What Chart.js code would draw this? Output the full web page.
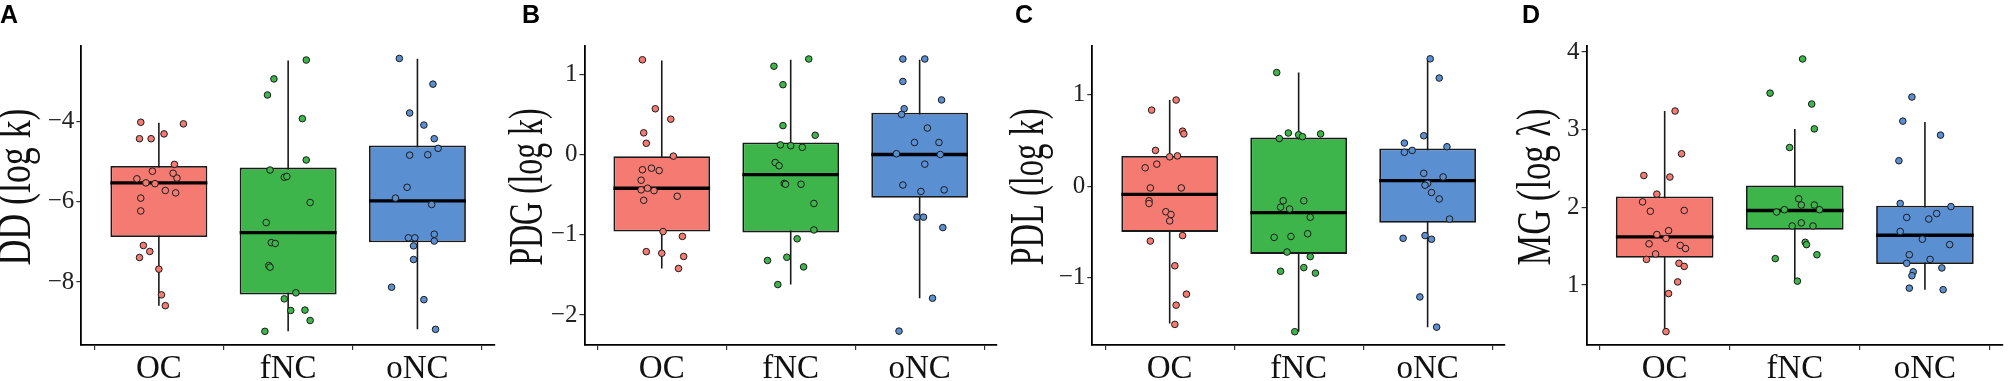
<!DOCTYPE html>
<html>
<head>
<meta charset="utf-8">
<script src="https://cdn.jsdelivr.net/npm/chart.js@4.4.1/dist/chart.umd.min.js"></script>
<style>
  html, body { margin: 0; padding: 0; background: #fff; }
  body { width: 2008px; height: 381px; position: relative; overflow: hidden; }
  .panel { position: absolute; top: 0; height: 381px; }
</style>
</head>
<body>
<div class="panel" id="wrapA" style="left:0px;width:500px"><canvas id="chartA"></canvas></div>
<div class="panel" id="wrapB" style="left:502px;width:500px"><canvas id="chartB"></canvas></div>
<div class="panel" id="wrapC" style="left:1004px;width:506px"><canvas id="chartC"></canvas></div>
<div class="panel" id="wrapD" style="left:1506px;width:502px"><canvas id="chartD"></canvas></div>
<script>
const groups = ["OC", "fNC", "oNC"];
const fillColors = ["#F57B72", "#3DB54B", "#5A8FD2"];

// ---- Panel A: DD (log k)
const ddTicks = [-8, -6, -4];
// box stats per group: [lower whisker, q1, median, q3, upper whisker]
const ddBox = [
    [-8.59, -6.88, -5.53, -5.11, -4.03],
    [-9.23, -8.31, -6.77, -5.15, -2.48],
    [-9.18, -7.01, -5.98, -4.60, -2.44]
];
const ddOC_x = [0.86,1.19,0.85,0.94,1.04,1.12,0.95,0.83,0.90,0.97,1.14,1.11,1.05,1.13,0.86,0.86,0.88,0.93,0.85,1.00,1.02,1.05];
const ddOC_y = [-4.02,-4.06,-4.43,-4.43,-4.31,-5.07,-5.24,-5.43,-5.53,-5.55,-5.41,-5.29,-5.72,-5.78,-5.91,-6.23,-7.09,-7.24,-7.39,-7.68,-8.32,-8.59];
const ddfNC_x = [2.14,1.89,1.84,2.11,2.14,1.86,1.97,1.99,2.17,1.83,1.87,1.90,1.85,1.86,2.06,1.97,2.02,2.13,2.17,1.82];
const ddfNC_y = [-2.47,-2.94,-3.34,-3.93,-4.96,-5.21,-5.39,-5.37,-6.02,-6.52,-7.02,-7.04,-7.59,-7.63,-8.27,-8.42,-8.71,-8.70,-8.96,-9.23];
const ddoNC_x = [2.86,3.12,2.94,3.05,3.13,3.16,2.94,3.08,2.92,2.83,3.11,3.13,2.93,2.98,3.13,2.97,2.97,2.80,3.05,3.14];
const ddoNC_y = [-2.43,-3.07,-3.79,-4.09,-4.43,-4.67,-4.84,-4.83,-5.64,-5.91,-6.07,-6.81,-6.90,-6.90,-6.98,-7.10,-7.44,-8.13,-8.44,-9.18];

// ---- Panel B: PDG (log k)
const pdgTicks = [-2, -1, 0, 1];
const pdgBox = [
    [-1.42, -0.96, -0.42, -0.02, 1.17],
    [-1.62, -0.97, -0.25, 0.15, 1.18],
    [-1.79, -0.54, 0.00, 0.52, 1.18]
];
const pdgOC_x = [0.85,0.95,1.07,0.86,0.88,1.09,0.85,0.92,0.98,0.84,0.89,0.84,0.94,1.12,0.86,1.01,1.16,0.88,1.00,1.17,1.13];
const pdgOC_y = [1.18,0.57,0.44,0.27,0.14,-0.02,-0.19,-0.17,-0.20,-0.32,-0.42,-0.44,-0.45,-0.52,-0.57,-0.96,-1.02,-1.21,-1.23,-1.27,-1.42];
const pdgfNC_x = [2.14,1.87,1.94,1.94,2.19,1.92,2.00,2.09,1.88,1.91,1.95,1.96,2.08,2.18,2.18,2.05,1.97,1.82,2.10,1.90];
const pdgfNC_y = [1.19,1.10,0.87,0.36,0.24,0.12,0.11,0.09,-0.10,-0.14,-0.36,-0.37,-0.37,-0.61,-0.94,-1.05,-1.28,-1.32,-1.40,-1.62];
const pdgoNC_x = [2.87,3.04,2.87,3.17,2.88,2.86,3.06,2.96,3.15,2.82,3.16,3.04,2.87,3.01,3.19,2.98,3.03,3.18,3.10,2.84];
const pdgoNC_y = [1.19,1.19,0.91,0.68,0.57,0.50,0.33,0.15,0.15,0.01,0.00,-0.12,-0.38,-0.46,-0.44,-0.78,-0.78,-0.91,-1.79,-2.20];

// ---- Panel C: PDL (log k)
const pdlTicks = [-1, 0, 1];
const pdlBox = [
    [-1.50, -0.50, -0.09, 0.33, 0.94],
    [-1.59, -0.74, -0.29, 0.53, 1.24],
    [-1.54, -0.40, 0.06, 0.41, 1.38]
];
const pdlOC_x = [1.05,0.86,1.10,1.11,0.89,1.00,1.06,0.90,0.81,0.85,1.09,0.84,0.84,0.97,1.01,1.00,0.85,1.10,1.04,1.13,1.05,1.04];
const pdlOC_y = [0.94,0.83,0.60,0.57,0.39,0.32,0.33,0.24,0.20,-0.02,-0.02,-0.16,-0.19,-0.28,-0.31,-0.38,-0.60,-0.54,-0.87,-1.18,-1.30,-1.51];
const pdlfNC_x = [1.83,1.92,1.85,2.00,2.03,2.17,1.88,2.04,1.86,1.93,2.09,1.81,1.94,2.07,1.91,2.09,2.04,1.86,2.13,1.97];
const pdlfNC_y = [1.24,0.58,0.52,0.56,0.54,0.57,-0.16,-0.16,-0.23,-0.25,-0.34,-0.56,-0.55,-0.52,-0.72,-0.77,-0.89,-0.93,-0.95,-1.59];
const pdloNC_x = [3.02,3.09,2.97,2.82,2.82,2.88,3.15,2.97,3.12,3.00,2.98,3.03,3.09,3.17,2.81,2.98,3.03,2.94,3.07];
const pdloNC_y = [1.39,1.18,0.55,0.47,0.37,0.39,0.43,0.14,0.10,0.03,0.01,-0.07,-0.14,-0.36,-0.57,-0.54,-0.58,-1.21,-1.54];

// ---- Panel D: MG (log λ)
const mgTicks = [1, 2, 3, 4];
const mgBox = [
    [0.40, 1.35, 1.62, 2.14, 3.24],
    [1.05, 1.71, 1.96, 2.28, 3.01],
    [0.94, 1.27, 1.64, 2.02, 3.10]
];
const mgOC_x = [1.08,1.13,0.84,1.04,0.94,0.83,0.89,1.15,1.03,0.94,1.01,0.88,1.12,1.16,0.93,0.86,1.11,1.15,1.10,1.03,1.01];
const mgOC_y = [3.24,2.69,2.41,2.39,2.17,2.07,1.95,1.96,1.70,1.65,1.60,1.53,1.51,1.47,1.40,1.33,1.28,1.24,1.04,0.89,0.40];
const mgfNC_x = [2.06,1.81,2.13,2.15,1.96,2.03,2.05,2.15,1.86,1.92,2.19,2.05,1.98,2.14,2.08,2.09,2.17,1.85,2.02];
const mgfNC_y = [3.91,3.47,3.33,3.01,2.77,2.11,2.03,2.03,1.94,1.97,1.97,1.80,1.76,1.76,1.55,1.52,1.39,1.34,1.05];
const mgoNC_x = [2.90,2.83,3.12,2.80,2.81,3.20,3.09,2.86,3.03,2.81,2.98,3.19,2.88,3.04,2.86,3.13,2.91,2.90,2.88,3.14];
const mgoNC_y = [3.42,3.11,2.93,2.60,2.05,2.01,1.92,1.87,1.85,1.69,1.59,1.52,1.39,1.33,1.28,1.22,1.17,1.12,0.96,0.94];

const serif = "Liberation Serif";

// draws the panel letter and the condensed rotated y title
const labelPlugin = {
    id: "panelLabels",
    afterDraw(chart, args, opts) {
        const ctx = chart.ctx;
        ctx.save();
        ctx.setTransform(1, 0, 0, 1, 0, 0);
        ctx.fillStyle = "#000";
        ctx.font = "bold 25px 'Liberation Sans'";
        ctx.textBaseline = "alphabetic";
        ctx.textAlign = "left";
        ctx.fillText(opts.letter, opts.letterX, 23);

        ctx.font = "48px 'Liberation Serif'";
        ctx.fillStyle = "#111";
        const w = ctx.measureText(opts.title).width;
        const s = opts.titleLen / w;
        // rotate -90deg and squeeze along the text direction
        ctx.setTransform(0, -s, 1, 0, opts.titleX, opts.titleY);
        ctx.textAlign = "center";
        ctx.textBaseline = "middle";
        ctx.fillText(opts.title, 0, 0);
        ctx.restore();
    }
};

function makePanel(canvasId, cfg) {
    var box = cfg.box;
    var whiskers = [], medians = [], bars = [];
    for (let g = 0; g < 3; g++) {
        let c = g + 1;
        whiskers.push({x: c, y: box[g][0]}, {x: c, y: box[g][4]}, {x: c, y: null});
        medians.push({x: c - 0.375, y: box[g][2]}, {x: c + 0.375, y: box[g][2]}, {x: c, y: null});
        bars.push({x: c, y: [box[g][1], box[g][3]]});
    }
    var datasets = [];
    datasets.push({
        type: "line", data: whiskers, borderColor: "#1a1a1a", borderWidth: 1.6,
        pointRadius: 0, spanGaps: false, order: 4
    });
    datasets.push({
        type: "bar", data: bars, backgroundColor: fillColors, borderColor: "#1a1a1a",
        borderWidth: 1.8, borderSkipped: false, categoryPercentage: 0.75, barPercentage: 1.0,
        grouped: false, order: 3
    });
    datasets.push({
        type: "line", data: medians, borderColor: "#000", borderWidth: 3.4,
        pointRadius: 0, spanGaps: false, order: 2
    });
    for (let g = 0; g < 3; g++) {
        let pts = [];
        for (let i = 0; i < cfg.xs[g].length; i++) {
            pts.push({x: cfg.xs[g][i], y: cfg.ys[g][i]});
        }
        datasets.push({
            type: "scatter", data: pts, backgroundColor: fillColors[g], borderColor: "#1a1a1a",
            borderWidth: 1, pointRadius: 3.3, order: 1
        });
    }

    var canvas = document.getElementById(canvasId);
    var width = canvas.parentNode.offsetWidth;

    var config = {
        type: "bar",
        data: { datasets: datasets },
        options: {
            responsive: false,
            animation: false,
            events: [],
            layout: { padding: { top: 46, right: cfg.padRight, left: 0, bottom: 0 } },
            plugins: {
                legend: { display: false },
                tooltip: { enabled: false },
                panelLabels: {
                    letter: cfg.letter, letterX: cfg.letterX, title: cfg.title,
                    titleX: cfg.titleX, titleY: 187, titleLen: 157
                }
            },
            scales: {
                x: {
                    type: "linear",
                    min: 0.4,
                    max: 3.6,
                    offset: false,
                    afterBuildTicks: function(scale) {
                        scale.ticks = [{value: 1}, {value: 2}, {value: 3}];
                    },
                    afterFit: function(scale) { scale.height = 36; },
                    ticks: {
                        callback: function(v) { return groups[v - 1]; },
                        font: { family: serif, size: 33 },
                        color: "#111",
                        padding: 0,
                        maxRotation: 0,
                        autoSkip: false
                    },
                    grid: { drawOnChartArea: false, drawTicks: true, tickLength: 5, color: "#333", lineWidth: 1.2 },
                    border: { display: true, color: "#000", width: 1.8 }
                },
                y: {
                    type: "linear",
                    min: cfg.yMin,
                    max: cfg.yMax,
                    afterBuildTicks: function(scale) {
                        scale.ticks = cfg.ticks.map(function(v) { return {value: v}; });
                    },
                    afterFit: function(scale) { scale.width = cfg.axisLeft; },
                    ticks: {
                        callback: function(v) { return String(v).replace("-", "\u2212"); },
                        font: { family: serif, size: 25 },
                        color: "#222",
                        padding: 2
                    },
                    grid: { drawOnChartArea: false, drawTicks: true, tickLength: 5, color: "#333", lineWidth: 1.2 },
                    border: { display: true, color: "#000", width: 1.8 }
                }
            }
        },
        plugins: [labelPlugin]
    };
    canvas.width = width;
    canvas.height = 381;
    canvas.style.width = width + "px";
    canvas.style.height = "381px";
    return new Chart(canvas, config);
}

makePanel("chartA", {
    box: ddBox, xs: [ddOC_x, ddfNC_x, ddoNC_x], ys: [ddOC_y, ddfNC_y, ddoNC_y],
    ticks: ddTicks, yMin: -9.57, yMax: -2.12, axisLeft: 81.3, padRight: 2.7,
    letter: "A", letterX: 0, title: "DD (log k)", titleX: 17
});
makePanel("chartB", {
    box: pdgBox, xs: [pdgOC_x, pdgfNC_x, pdgoNC_x], ys: [pdgOC_y, pdgfNC_y, pdgoNC_y],
    ticks: pdgTicks, yMin: -2.373, yMax: 1.352, axisLeft: 82.4, padRight: 2,
    letter: "B", letterX: 20, title: "PDG (log k)", titleX: 27
});
makePanel("chartC", {
    box: pdlBox, xs: [pdlOC_x, pdlfNC_x, pdloNC_x], ys: [pdlOC_y, pdlfNC_y, pdloNC_y],
    ticks: pdlTicks, yMin: -1.735, yMax: 1.53, axisLeft: 88.3, padRight: 1.7,
    letter: "C", letterX: 11, title: "PDL (log k)", titleX: 26
});
makePanel("chartD", {
    box: mgBox, xs: [mgOC_x, mgfNC_x, mgoNC_x], ys: [mgOC_y, mgfNC_y, mgoNC_y],
    ticks: mgTicks, yMin: 0.228, yMax: 4.077, axisLeft: 80.6, padRight: 0,
    letter: "D", letterX: 16, title: "MG (log \u03bb)", titleX: 31
});
</script>
</body>
</html>
